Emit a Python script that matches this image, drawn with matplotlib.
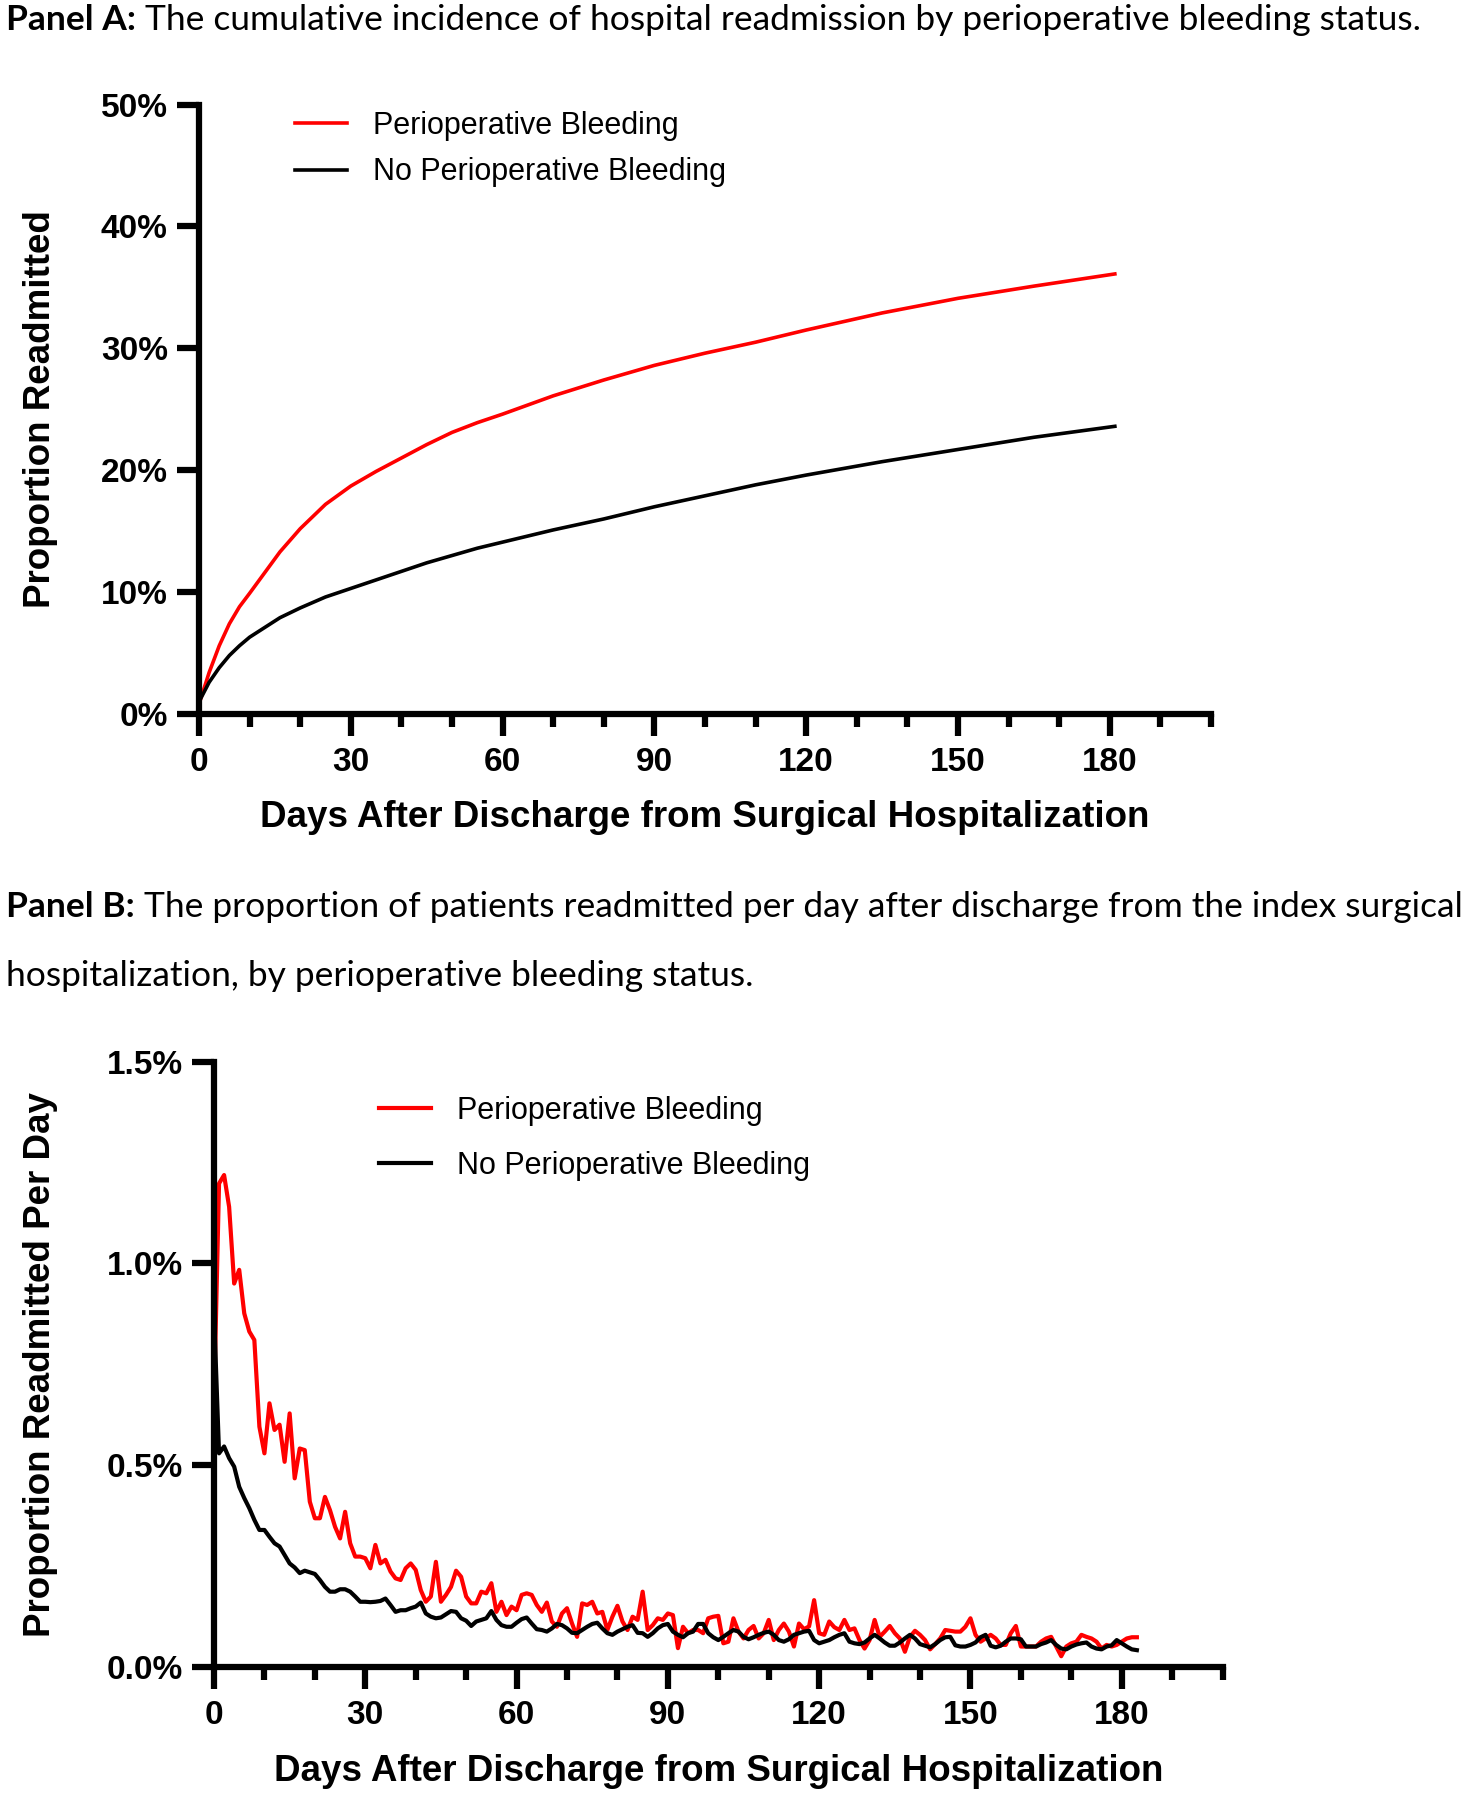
import matplotlib
matplotlib.use("Agg")
import matplotlib.pyplot as plt
from matplotlib.ticker import MultipleLocator, FuncFormatter

# ---- Panel A: cumulative incidence (%) ----
days_a = [0, 2, 4, 6, 8, 10, 13, 16, 20, 25, 30, 35, 40, 45, 50, 55, 60,
          70, 80, 90, 100, 110, 120, 135, 150, 165, 181]
bleed_a = [0.8, 3.4, 5.6, 7.4, 8.8, 9.9, 11.6, 13.3, 15.2, 17.2, 18.7, 19.9,
           21.0, 22.1, 23.1, 23.9, 24.6, 26.1, 27.4, 28.6, 29.6, 30.5, 31.5,
           32.9, 34.1, 35.1, 36.1]
nobleed_a = [1.0, 2.6, 3.8, 4.8, 5.6, 6.3, 7.1, 7.9, 8.7, 9.6, 10.3, 11.0,
             11.7, 12.4, 13.0, 13.6, 14.1, 15.1, 16.0, 17.0, 17.9, 18.8, 19.6,
             20.7, 21.7, 22.7, 23.6]

# ---- Panel B: readmitted per day (%), days 0..183 ----
days_b = list(range(184))
bleed_b = [
    0.653, 1.198, 1.219, 1.14, 0.95, 0.984, 0.876, 0.831, 0.81, 0.595,
    0.529, 0.653, 0.587, 0.6, 0.508, 0.628, 0.467, 0.541, 0.537, 0.409,
    0.368, 0.368, 0.421, 0.388, 0.347, 0.318, 0.384, 0.306, 0.273, 0.273,
    0.269, 0.244, 0.302, 0.256, 0.265, 0.236, 0.219, 0.215, 0.244, 0.256,
    0.24, 0.19, 0.161, 0.174, 0.26, 0.161, 0.178, 0.198, 0.238, 0.223,
    0.174, 0.157, 0.157, 0.186, 0.182, 0.207, 0.136, 0.161, 0.128, 0.149,
    0.14, 0.178, 0.182, 0.178, 0.153, 0.136, 0.159, 0.112, 0.099, 0.132,
    0.145, 0.107, 0.074, 0.157, 0.153, 0.161, 0.132, 0.136, 0.091, 0.124,
    0.151, 0.112, 0.091, 0.124, 0.116, 0.186, 0.091, 0.103, 0.12, 0.116,
    0.132, 0.128, 0.046, 0.099, 0.083, 0.091, 0.091, 0.083, 0.12, 0.124,
    0.126, 0.058, 0.062, 0.12, 0.087, 0.07, 0.091, 0.101, 0.07, 0.083,
    0.116, 0.066, 0.091, 0.107, 0.087, 0.05, 0.107, 0.093, 0.1, 0.165,
    0.083, 0.079, 0.112, 0.098, 0.091, 0.116, 0.091, 0.095, 0.066, 0.045,
    0.066, 0.116, 0.074, 0.087, 0.101, 0.083, 0.07, 0.037, 0.074, 0.089,
    0.079, 0.066, 0.043, 0.056, 0.07, 0.091, 0.089, 0.087, 0.087, 0.099,
    0.12, 0.079, 0.062, 0.07, 0.079, 0.07, 0.054, 0.054, 0.083, 0.101,
    0.05, 0.05, 0.05, 0.05, 0.062, 0.07, 0.074, 0.05, 0.026, 0.05,
    0.058, 0.062, 0.079, 0.074, 0.07, 0.062, 0.045, 0.054, 0.05, 0.054,
    0.062, 0.07, 0.073, 0.073,
]
nobleed_b = [
    0.88, 0.529, 0.546, 0.517, 0.496, 0.446, 0.418, 0.393, 0.364, 0.339,
    0.339, 0.322, 0.306, 0.298, 0.277, 0.256, 0.246, 0.232, 0.238, 0.234,
    0.23, 0.215, 0.198, 0.186, 0.186, 0.192, 0.192, 0.186, 0.174, 0.161,
    0.161, 0.16, 0.161, 0.163, 0.169, 0.153, 0.136, 0.14, 0.14, 0.145,
    0.149, 0.159, 0.132, 0.124, 0.12, 0.122, 0.13, 0.138, 0.136, 0.12,
    0.114, 0.101, 0.112, 0.116, 0.12, 0.138, 0.116, 0.103, 0.099, 0.099,
    0.109, 0.118, 0.122, 0.107, 0.093, 0.091, 0.087, 0.095, 0.106, 0.103,
    0.095, 0.084, 0.083, 0.091, 0.099, 0.106, 0.109, 0.095, 0.083, 0.079,
    0.087, 0.093, 0.099, 0.103, 0.084, 0.083, 0.074, 0.083, 0.095, 0.103,
    0.106, 0.087, 0.079, 0.073, 0.083, 0.087, 0.106, 0.106, 0.083, 0.073,
    0.066, 0.074, 0.083, 0.091, 0.087, 0.074, 0.068, 0.073, 0.079, 0.084,
    0.087, 0.079, 0.066, 0.062, 0.068, 0.079, 0.083, 0.087, 0.089, 0.066,
    0.058, 0.062, 0.066, 0.073, 0.079, 0.083, 0.062, 0.058, 0.056, 0.06,
    0.07, 0.079, 0.07, 0.06, 0.052, 0.052, 0.06, 0.07, 0.079, 0.07,
    0.056, 0.052, 0.048, 0.056, 0.066, 0.073, 0.074, 0.053, 0.05, 0.05,
    0.054, 0.06, 0.073, 0.079, 0.052, 0.048, 0.052, 0.062, 0.07, 0.07,
    0.068, 0.05, 0.05, 0.05, 0.056, 0.06, 0.066, 0.054, 0.045, 0.043,
    0.05, 0.055, 0.058, 0.06, 0.05, 0.045, 0.043, 0.05, 0.053, 0.066,
    0.058, 0.05, 0.043, 0.041,
]

labels = ["Perioperative Bleeding", "No Perioperative Bleeding"]
x_label = "Days After Discharge from Surgical Hospitalization"

plt.rcParams["font.family"] = ["Liberation Sans", "DejaVu Sans"]

W, H = 1473, 1800
TITLE_SIZE = 25.5
fig = plt.figure(figsize=(W / 100, H / 100), dpi=100)


def style_axes(ax, lw=4.5):
    for side in ["top", "right"]:
        ax.spines[side].set_visible(False)
    for side in ["left", "bottom"]:
        ax.spines[side].set_linewidth(lw)
        ax.spines[side].set_capstyle("projecting")
    ax.set_xlim(0, 200)
    ax.xaxis.set_major_locator(MultipleLocator(30))
    ax.xaxis.set_minor_locator(MultipleLocator(10))
    ax.tick_params(axis="both", which="major", width=lw, length=16,
                   labelsize=24, pad=8)
    ax.tick_params(axis="y", which="major", pad=6.5)
    ax.tick_params(axis="x", which="minor", width=lw, length=9)
    ax.tick_params(axis="y", which="minor", left=False)
    for t in ax.get_xticklabels() + ax.get_yticklabels():
        t.set_fontweight("bold")
    ax.set_xticks([0, 30, 60, 90, 120, 150, 180])


def title(y, bold, rest):
    r = fig.canvas.get_renderer()
    t = fig.text(0.004, y, bold, fontsize=TITLE_SIZE, fontweight="bold",
                 family="Lato", va="center", ha="left")
    bb = t.get_window_extent(renderer=r)
    fig.text((bb.x1 + 9) / W, y, rest, fontsize=TITLE_SIZE, family="Lato",
             va="center", ha="left")


# Panel A
axa = fig.add_axes([199 / W, 1 - 714 / H, 1012 / W, 609.5 / H])
axa.plot(days_a, bleed_a, color="#ff0000", lw=2.6, label=labels[0])
axa.plot(days_a, nobleed_a, color="black", lw=2.6, label=labels[1])
axa.set_ylim(0, 50)
axa.yaxis.set_major_locator(MultipleLocator(10))
axa.yaxis.set_major_formatter(FuncFormatter(lambda v, p: f"{v:.0f}%"))
style_axes(axa)
axa.set_ylabel("Proportion Readmitted", fontsize=26.5, fontweight="bold",
               va="center")
axa.yaxis.set_label_coords(-0.157, 0.5)
axa.set_xlabel(x_label, fontsize=26.5, fontweight="bold", va="center")
axa.xaxis.set_label_coords(0.5, -0.169)
axa.legend(loc="upper left", bbox_to_anchor=(0.068, 1.035), frameon=False,
           fontsize=22, handlelength=1.7, handletextpad=0.85,
           labelspacing=0.55)

# Panel B
axb = fig.add_axes([214 / W, 1 - 1666.7 / H, 1008.6 / W, 605 / H])
axb.plot(days_b, bleed_b, color="#ff0000", lw=3.0, label=labels[0])
axb.plot(days_b, nobleed_b, color="black", lw=3.0, label=labels[1])
axb.set_ylim(0, 1.5)
axb.yaxis.set_major_locator(MultipleLocator(0.5))
axb.yaxis.set_major_formatter(FuncFormatter(lambda v, p: f"{v:.1f}%"))
style_axes(axb)
axb.set_ylabel("Proportion Readmitted Per Day", fontsize=26.5,
               fontweight="bold", va="center")
axb.yaxis.set_label_coords(-0.1725, 0.5)
axb.set_xlabel(x_label, fontsize=26.5, fontweight="bold", va="center")
axb.xaxis.set_label_coords(0.5, -0.1724)
axb.legend(loc="upper left", bbox_to_anchor=(0.136, 0.989), frameon=False,
           fontsize=22, handlelength=1.7, handletextpad=0.85,
           labelspacing=0.82)

title(1 - 20 / H, "Panel A:",
      "The cumulative incidence of hospital readmission by perioperative "
      "bleeding status.")
title(1 - 907 / H, "Panel B:",
      "The proportion of patients readmitted per day after discharge from "
      "the index surgical")
fig.text(0.004, 1 - 976 / H,
         "hospitalization, by perioperative bleeding status.",
         fontsize=TITLE_SIZE, family="Lato", va="center", ha="left")

fig.savefig("out.png", dpi=100)
